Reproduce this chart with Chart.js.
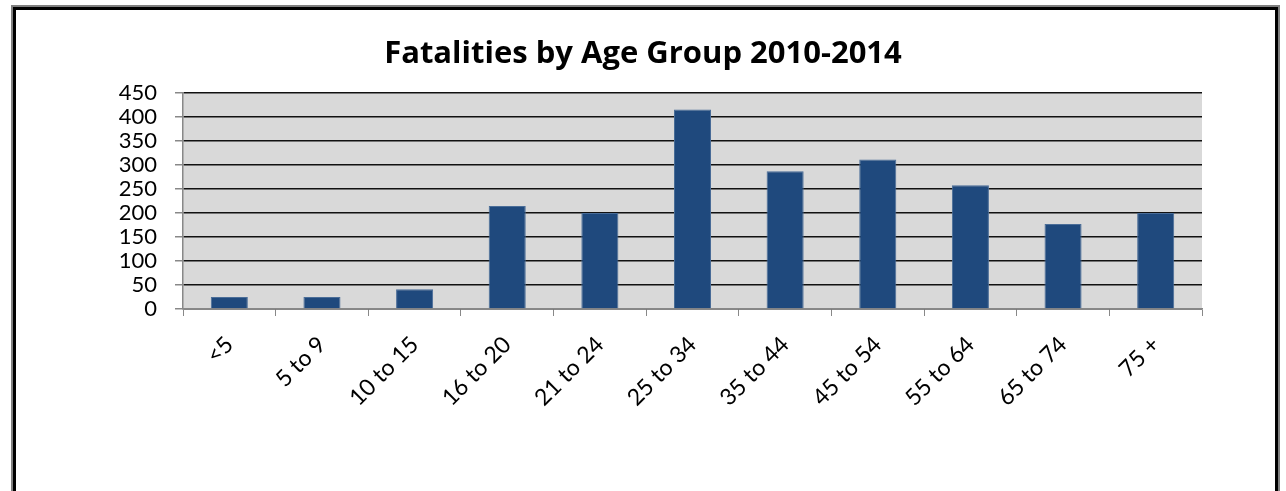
<!DOCTYPE html>
<html>
<head>
<meta charset="utf-8">
<script src="https://cdn.jsdelivr.net/npm/chart.js@4/dist/chart.umd.min.js"></script>
<style>
  html, body { margin: 0; padding: 0; background: #fff; overflow: hidden; }
  #wrap { position: relative; width: 1286px; height: 491px; }
  #myChart { position: absolute; left: 0; top: 0; }
  .frame {
    position: absolute; left: 13px; top: 7px; width: 1265px; height: 520px;
    box-sizing: border-box; border: 3px solid #000; outline: 2px solid #808080;
    pointer-events: none;
  }
</style>
</head>
<body>
<div id="wrap">
  <canvas id="myChart" width="1286" height="491"></canvas>
  <div class="frame"></div>
</div>
<script>
// chart data
const ageGroups = ["<5", "5 to 9", "10 to 15", "16 to 20", "21 to 24", "25 to 34",
                   "35 to 44", "45 to 54", "55 to 64", "65 to 74", "75 +"];

const fatalities = [25, 25, 41, 215, 200, 416, 287, 312, 258, 177, 200];

const chartTitle = "Fatalities by Age Group 2010-2014";

const yMin = 0, yMax = 450, yStep = 50;

// grey plot background
const plotBackground = {
  id: "plotBackground",
  beforeDraw(chart) {
    const a = chart.chartArea;
    const ctx = chart.ctx;
    ctx.save();
    ctx.fillStyle = "#d9d9d9";
    ctx.fillRect(a.left, a.top, a.right - a.left, a.bottom - a.top);
    ctx.restore();
  }
};

new Chart("myChart", {
  type: "bar",
  data: {
    labels: ageGroups,
    datasets: [{
      data: fatalities,
      backgroundColor: "#1f497d",
      borderColor: "#4a6d98",
      borderWidth: 1,
      categoryPercentage: 1,
      barPercentage: 0.4
    }]
  },
  options: {
    responsive: false,
    animation: false,
    layout: { padding: 0 },
    plugins: {
      legend: { display: false },
      tooltip: { enabled: false },
      title: {
        display: true,
        text: chartTitle,
        color: "#000",
        font: { family: "Open Sans", size: 31, weight: "bold" },
        padding: { top: 36, bottom: 20 }
      }
    },
    scales: {
      x: {
        grid: {
          display: true, offset: true, drawOnChartArea: false,
          drawTicks: true, tickLength: 7, tickColor: "#888", tickWidth: 1
        },
        border: { color: "#888", width: 1.5 },
        ticks: {
          color: "#000", minRotation: 45, maxRotation: 45, padding: 15,
          font: { family: "Lato", size: 23 }
        },
        afterFit(scale) { scale.height = 182; }
      },
      y: {
        min: yMin, max: yMax,
        grid: { color: "#111", lineWidth: 1.5, tickLength: 8, tickColor: "#888" },
        border: { color: "#888", width: 1.5 },
        ticks: {
          stepSize: yStep, autoSkip: false, color: "#000", padding: 18,
          font: { family: "Lato", size: 22 }
        },
        afterFit(scale) { scale.width = 183; }
      },
      // empty right axis, only keeps the blank strip right of the plot
      yRight: {
        position: "right",
        min: yMin, max: yMax,
        grid: { display: false },
        border: { display: false },
        ticks: { display: false },
        afterFit(scale) { scale.width = 84; }
      }
    }
  },
  plugins: [plotBackground]
});
</script>
</body>
</html>
